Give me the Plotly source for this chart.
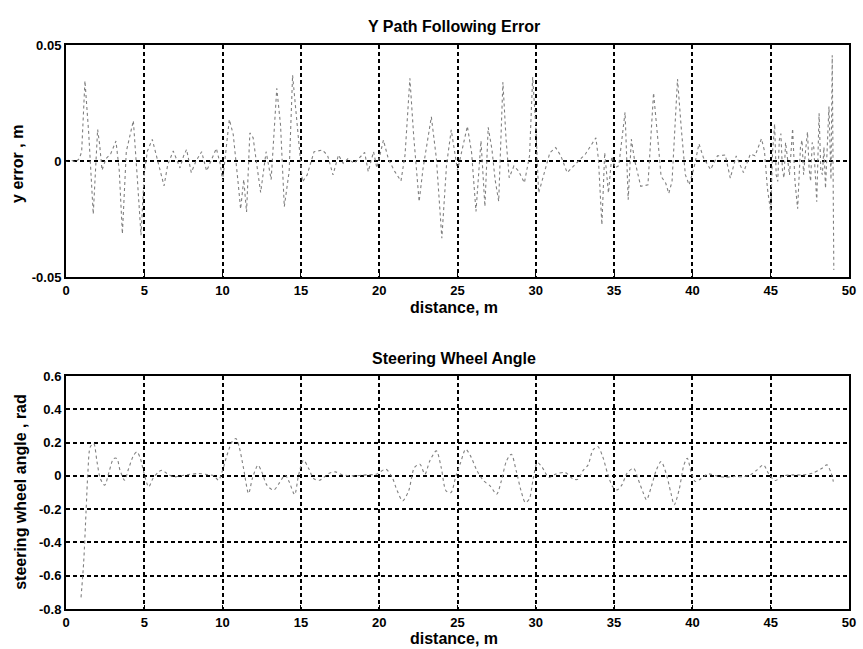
import plotly.graph_objects as go
from plotly.subplots import make_subplots

# ---- Y path following error (top) ----
err_x = [0.0, 0.3, 0.6, 0.85, 1.0, 1.21, 1.45, 1.74, 2.02, 2.15, 2.3, 2.55, 2.85, 3.19, 3.4, 3.6, 3.85,
         4.3, 4.55, 4.79, 5.0, 5.2, 5.51, 5.8, 6.26, 6.5, 6.85, 7.28, 7.5, 7.7, 8.0, 8.3, 8.66, 8.98,
         9.3, 9.6, 9.85, 10.0, 10.43, 10.68, 11.0, 11.15, 11.35, 11.53, 11.74, 11.95, 12.15, 12.43,
         12.78, 13.1, 13.46, 13.7, 13.94, 14.25, 14.47, 14.7, 14.9, 15.1, 15.4, 15.84, 16.37, 16.7,
         17.05, 17.4, 17.7, 18.0, 18.4, 18.8, 19.07, 19.3, 19.64, 19.85, 20.27, 20.6, 21.0, 21.39,
         21.65, 21.96, 22.2, 22.55, 22.8, 23.33, 23.65, 24.0, 24.3, 24.6, 24.9, 25.0, 25.3, 25.63,
         25.9, 26.18, 26.5, 26.75, 26.96, 27.2, 27.4, 27.63, 27.9, 28.1, 28.3, 28.6, 28.9, 29.27,
         29.6, 29.8, 30.0, 30.18, 30.3, 30.6, 30.9, 31.27, 31.6, 32.0, 32.5, 33.17, 33.5, 33.84,
         34.0, 34.22, 34.4, 34.64, 34.85, 35.06, 35.3, 35.7, 35.9, 36.1, 36.3, 36.5, 36.7, 37.16,
         37.52, 37.8, 38.0, 38.3, 38.49, 38.7, 39.05, 39.3, 39.55, 39.79, 40.1, 40.42, 40.7, 41.16,
         41.6, 42.1, 42.42, 42.8, 43.26, 43.7, 44.0, 44.41, 44.6, 44.79, 45.0, 45.12, 45.25, 45.35,
         45.45, 45.55, 45.65, 45.75, 45.85, 45.95, 46.05, 46.2, 46.4, 46.55, 46.72, 46.9, 47.0,
         47.1, 47.22, 47.35, 47.45, 47.55, 47.65, 47.75, 47.85, 47.94, 48.09, 48.2, 48.3, 48.4,
         48.5, 48.62, 48.72, 48.85, 48.93, 49.03]
err_y = [0.0, 0.0005, -0.0005, 0.001, 0.004, 0.0346, 0.012, -0.0229, 0.0136, 0.007, -0.004, 0.001,
         0.003, 0.0086, -0.004, -0.0314, 0.004, 0.0174, -0.007, -0.032, -0.005, 0.0043, 0.0093,
         0.0015, -0.0107, -0.0015, 0.0043, -0.003, 0.002, 0.005, -0.005, 0.0, 0.004, -0.0043, 0.001,
         0.0054, -0.0014, -0.0086, 0.0179, 0.0114, -0.01, -0.0207, -0.008, -0.022, 0.0121, 0.010,
         0.0, -0.0136, 0.004, -0.008, 0.0313, 0.0155, -0.0197, -0.0045, 0.037, 0.021, 0.007, -0.009,
         -0.006, 0.004, 0.0047, 0.0025, -0.006, 0.0026, -0.001, 0.001, -0.001, 0.002, 0.0037,
         -0.0046, 0.004, -0.003, 0.009, 0.0005, -0.0046, -0.0086, 0.0026, 0.0356, 0.011, -0.0175,
         -0.0032, 0.019, 0.0012, -0.0333, -0.0017, 0.0134, 0.001, -0.004, 0.005, 0.015, 0.0036,
         -0.0218, 0.0087, -0.0196, 0.0145, 0.005, -0.008, -0.0174, 0.034, 0.0094, -0.0072, -0.0022,
         -0.0043, -0.0094, 0.0022, 0.0362, 0.015, -0.0138, -0.011, -0.0036, 0.0036, 0.0058, 0.0022,
         -0.005, -0.0014, 0.003, 0.0065, 0.01, 0.0007, -0.0275, 0.0036, -0.0138, 0.002, -0.003,
         -0.002, 0.021, -0.0167, 0.0094, 0.0007, -0.005, -0.0109, -0.0103, 0.0294, 0.0088, -0.0066,
         -0.0096, -0.014, -0.0088, 0.0353, 0.0132, -0.0059, -0.0103, -0.003, 0.0074, 0.0015,
         -0.0037, 0.0022, 0.0026, -0.0074, 0.0022, -0.005, 0.003, 0.0022, 0.0096, 0.0044, -0.0118,
         -0.022, 0.004, 0.016, -0.006, -0.0088, 0.009, 0.0118, -0.004, -0.0073, 0.008, 0.0029,
         -0.006, 0.014, -0.0088, -0.0206, 0.0059, 0.009, -0.0059, 0.004, 0.0125, -0.003, -0.0088,
         0.008, 0.0059, -0.006, -0.0176, 0.0206, -0.004, -0.0059, 0.006, -0.0118, 0.009, 0.0235,
         -0.008, 0.0456, -0.047]

# ---- Steering wheel angle (bottom) ----
steer_x = [0.96, 1.13, 1.28, 1.4, 1.55, 1.77, 1.98, 2.19, 2.47, 2.75, 3.04, 3.25, 3.45, 3.74, 4.0,
           4.32, 4.53, 4.75, 4.96, 5.28, 5.55, 5.91, 6.13, 6.45, 6.87, 7.3, 7.83, 8.47, 9.0, 9.45,
           9.74, 10.0, 10.28, 10.6, 10.85, 11.06, 11.34, 11.66, 11.9, 12.26, 12.5, 12.83, 13.26,
           13.6, 14.0, 14.25, 14.6, 14.85, 15.17, 15.5, 15.81, 16.2, 16.77, 17.2, 17.6, 18.33, 19.2,
           19.8, 20.42, 20.83, 21.15, 21.5, 21.88, 22.25, 22.6, 22.92, 23.23, 23.65, 23.96, 24.27,
           24.58, 24.9, 25.2, 25.52, 25.83, 26.25, 26.67, 27.08, 27.5, 27.8, 28.13, 28.44, 28.75,
           29.06, 29.33, 29.58, 29.83, 30.1, 30.42, 30.83, 31.25, 31.88, 32.4, 32.7, 33.0, 33.34,
           33.65, 33.96, 34.27, 34.58, 34.9, 35.2, 35.5, 35.83, 36.24, 36.55, 36.87, 37.07, 37.38,
           37.7, 38.0, 38.32, 38.63, 38.84, 39.15, 39.46, 39.67, 39.94, 40.19, 40.5, 41.02, 41.54,
           42.06, 42.68, 43.3, 43.71, 44.13, 44.54, 44.85, 45.27, 45.8, 46.4, 47.03, 47.65, 48.28,
           48.59, 48.86, 49.0]
steer_y = [-0.73, -0.516, -0.216, 0.024, 0.174, 0.194, 0.084, -0.016, -0.056, 0.024, 0.104, 0.104,
           0.034, -0.026, 0.044, 0.124, 0.144, 0.104, 0.024, -0.066, -0.016, 0.024, 0.034, 0.014,
           -0.006, 0.0, 0.008, 0.014, 0.008, 0.0, -0.026, 0.034, 0.124, 0.204, 0.224, 0.174, 0.044,
           -0.106, -0.016, 0.064, 0.024, -0.056, -0.086, -0.046, 0.004, -0.036, -0.112, 0.004, 0.094,
           0.044, -0.016, -0.026, 0.014, 0.024, 0.008, 0.0, 0.006, 0.01, 0.04, -0.01, -0.09, -0.15,
           -0.09, 0.05, 0.07, 0.01, 0.09, 0.15, 0.05, -0.09, -0.10, 0.0, 0.08, 0.16, 0.12, 0.03,
           -0.03, -0.06, -0.11, -0.03, 0.09, 0.13, 0.03, -0.09, -0.16, -0.14, -0.02, 0.08, 0.05,
           -0.01, 0.01, 0.02, -0.02, -0.02, 0.03, 0.066, 0.156, 0.176, 0.116, 0.016, -0.064, -0.084,
           -0.054, 0.016, 0.046, -0.024, -0.104, -0.144, -0.064, 0.036, 0.086, 0.016, -0.104, -0.174,
           -0.084, 0.066, 0.106, 0.016, -0.034, -0.02, 0.012, 0.0, -0.008, -0.004, -0.004, 0.006,
           0.036, 0.066, 0.016, -0.028, 0.0, 0.006, 0.006, 0.016, 0.046, 0.066, 0.016, -0.034]

x_ticks = [0, 5, 10, 15, 20, 25, 30, 35, 40, 45, 50]
err_ticks = [-0.05, 0, 0.05]
err_tick_text = ["-0.05", "0", "0.05"]
steer_ticks = [-0.8, -0.6, -0.4, -0.2, 0, 0.2, 0.4, 0.6]
steer_tick_text = ["-0.8", "-0.6", "-0.4", "-0.2", "0", "0.2", "0.4", "0.6"]

FONT = "Liberation Sans, Arial, sans-serif"
LINE = "#808080"

fig = make_subplots(rows=2, cols=1)
fig.add_trace(go.Scatter(x=err_x, y=err_y, mode="lines",
                         line=dict(color=LINE, width=1.1, dash="dot"), showlegend=False), row=1, col=1)
fig.add_trace(go.Scatter(x=steer_x, y=steer_y, mode="lines",
                         line=dict(color=LINE, width=1.1, dash="dot", shape="spline", smoothing=0.8),
                         showlegend=False), row=2, col=1)

axis_common = dict(showline=True, linecolor="black", linewidth=2, mirror=True,
                   ticks="inside", ticklen=4, tickcolor="black",
                   showgrid=True, gridcolor="black", gridwidth=1.6, griddash="4px,3px",
                   zeroline=False, ticklabeloverflow="allow",
                   tickfont=dict(family=FONT, size=13, color="black", weight="bold"))

fig.update_xaxes(range=[0, 50], tickvals=x_ticks, **axis_common)
fig.update_yaxes(**axis_common)
fig.update_yaxes(range=[-0.05, 0.05], tickvals=err_ticks, ticktext=err_tick_text, row=1, col=1)
fig.update_yaxes(range=[-0.8, 0.6], tickvals=steer_ticks, ticktext=steer_tick_text, row=2, col=1)

fig.update_layout(
    width=863, height=649,
    margin=dict(l=66, r=7, t=45, b=40),
    plot_bgcolor="white", paper_bgcolor="white",
    xaxis=dict(domain=[0, 1]), xaxis2=dict(domain=[0, 1]),
    yaxis=dict(domain=[0.5887, 1.0]), yaxis2=dict(domain=[0.0, 0.4131]),
)

ann_font = dict(family=FONT, size=16, color="black", weight="bold")
annotations = [
    dict(text="Y Path Following Error", x=0.495, y=1.032, xref="paper", yref="paper",
         showarrow=False, font=ann_font, xanchor="center", yanchor="middle"),
    dict(text="distance, m", x=0.495, y=0.534, xref="paper", yref="paper",
         showarrow=False, font=ann_font, xanchor="center", yanchor="middle"),
    dict(text="Steering Wheel Angle", x=0.495, y=0.445, xref="paper", yref="paper",
         showarrow=False, font=ann_font, xanchor="center", yanchor="middle"),
    dict(text="distance, m", x=0.495, y=-0.053, xref="paper", yref="paper",
         showarrow=False, font=ann_font, xanchor="center", yanchor="middle"),
    dict(text="y error , m", x=-0.062, y=0.79, xref="paper", yref="paper", textangle=-90,
         showarrow=False, font=ann_font, xanchor="center", yanchor="middle"),
    dict(text="steering wheel angle , rad", x=-0.058, y=0.207, xref="paper", yref="paper",
         textangle=-90, showarrow=False, font=ann_font, xanchor="center", yanchor="middle"),
]
fig.update_layout(annotations=annotations)

# remove the default page margin so the 863x649 figure fills the window exactly
fig.write_html("out.html", config={"displayModeBar": False},
               post_script="document.body.style.margin='0px';document.body.style.overflow='hidden';")
